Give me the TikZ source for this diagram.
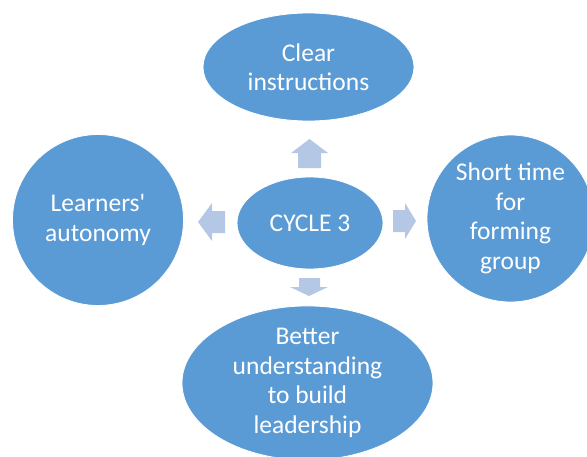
\documentclass[tikz,border=0pt]{standalone}
\usepackage{fontspec}
\setmainfont{Carlito}[Ligatures=TeXOff]
\definecolor{bubble}{HTML}{5B9BD5}
\definecolor{arrowblue}{HTML}{B4C8E6}
\begin{document}
\begin{tikzpicture}[x=1pt,y=-1pt,
  bubble/.style={ellipse, fill=bubble, draw=white, line width=0.8pt, text=white, align=center, inner sep=0pt,
    font=\fontsize{25.5}{29.5}\selectfont},
  blockarrow/.style={fill=arrowblue, draw=none}]
\usetikzlibrary{shapes.geometric}
\useasboundingbox (0,0) rectangle (587,456);
\clip (0,0) rectangle (587,456);
% ellipses
\node[bubble, minimum width=211pt, minimum height=108pt] (top) at (308.5,67) {Clear\\instructions};
\node[bubble, minimum width=146pt, minimum height=92pt] (center) at (310,223) {CYCLE 3};
\node[bubble, minimum width=171pt, minimum height=171pt] (left) at (98,220) {Learners'\\autonomy};
\node[bubble, minimum width=167pt, minimum height=167pt] (right) at (510.5,218.5) {Short time\\for\\forming\\group};
\node[bubble, minimum width=251pt, minimum height=154pt] (bottom) at (307.5,383) {Better\\understanding\\to build\\leadership};
% block arrows
\fill[blockarrow] (298,168) -- (298,153) -- (291,153) -- (309.5,139) -- (328,153) -- (321,153) -- (321,168) -- cycle;
\fill[blockarrow] (299,278) -- (299,287) -- (290,287) -- (309,296) -- (328,287) -- (320,287) -- (320,278) -- cycle;
\fill[blockarrow] (225,211) -- (212,211) -- (212,203) -- (198,222) -- (212,241) -- (212,233) -- (225,233) -- cycle;
\fill[blockarrow] (393,210) -- (405,210) -- (405,203) -- (416,221) -- (405,239) -- (405,232) -- (393,232) -- cycle;
\end{tikzpicture}
\end{document}
